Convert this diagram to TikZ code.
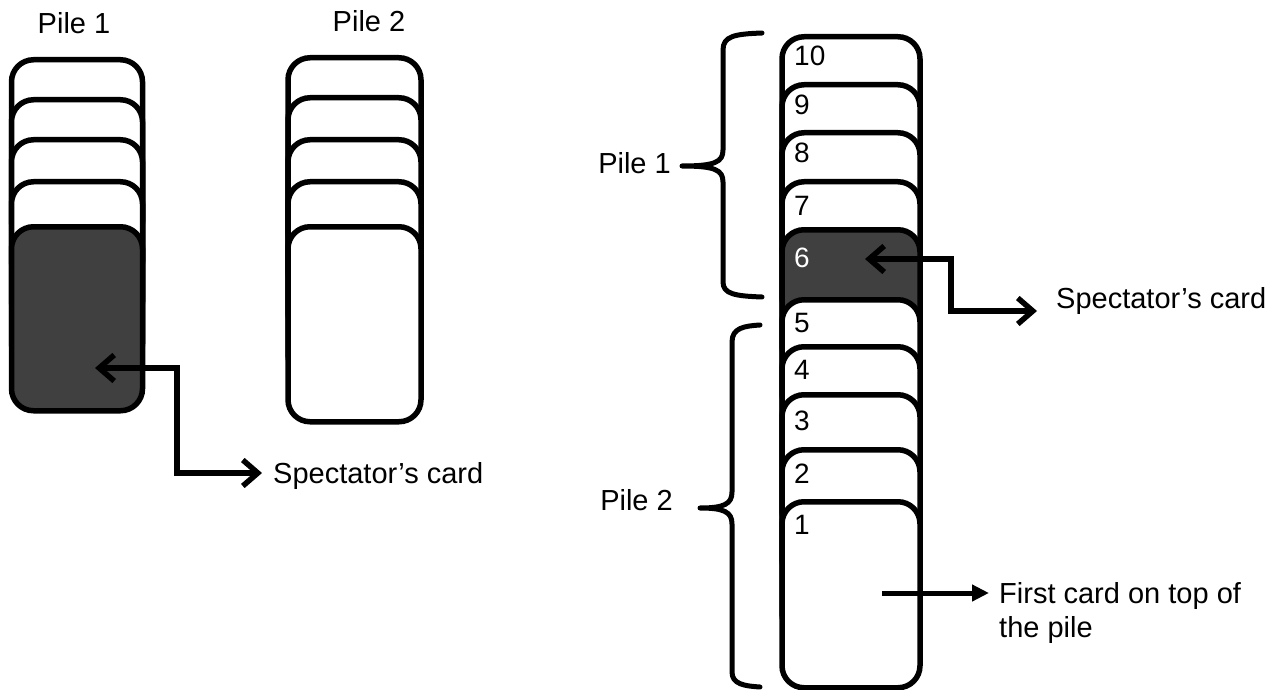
\documentclass[tikz,border=0pt]{standalone}
\usepackage{fontspec}
\setmainfont{Liberation Sans}
\usetikzlibrary{arrows.meta}
\definecolor{carddark}{RGB}{64,64,64}
\begin{document}
\begin{tikzpicture}[x=1pt,y=-1pt,
  card/.style={draw=black, line width=5.5pt, rectangle, rounded corners=22pt,
    fill=white, inner sep=0pt},
  darkcard/.style={card, fill=carddark},
  lbl/.style={inner sep=0pt, font=\fontsize{29}{34}\selectfont},
  num/.style={inner sep=0pt, anchor=base west, font=\fontsize{28}{32}\selectfont},
  bracepath/.style={line width=5pt, line cap=round, line join=round},
  barbarrow/.style={line width=5.5pt, {Straight Barb[length=15pt,width=26pt]}-{Straight Barb[length=15pt,width=26pt]}},
  triarrow/.style={line width=5pt, -{Triangle[length=17pt,width=16pt]}}
]
\useasboundingbox (0,0) rectangle (1278,690);

% ---------- left: Pile 1 ----------
\foreach \t [count=\i] in {57,97,137,179}{
  \node[card, anchor=north, minimum width=131pt, minimum height=184pt] (pa\i) at (77,\t) {};
}
\node[darkcard, anchor=north, minimum width=131pt, minimum height=184pt] (pa5) at (77,224) {};
\node[lbl, anchor=base] (pile1L) at (74,34) {Pile 1};

% ---------- left: Pile 2 ----------
\foreach \t [count=\i] in {55,95,137,179,224}{
  \node[card, anchor=north, minimum width=133pt, minimum height=195pt] (pb\i) at (354.5,\t) {};
}
\node[lbl, anchor=base] (pile2L) at (369,32) {Pile 2};

% ---------- right stack ----------
\node[card, anchor=north, minimum width=138pt, minimum height=186pt] (r10) at (851,34) {};
\node[card, anchor=north, minimum width=138pt, minimum height=186pt] (r9) at (851,82) {};
\node[card, anchor=north, minimum width=138pt, minimum height=186pt] (r8) at (851,130) {};
\node[card, anchor=north, minimum width=138pt, minimum height=186pt] (r7) at (851,179) {};
\node[darkcard, anchor=north, minimum width=138pt, minimum height=186pt] (r6) at (851,227) {};
\node[card, anchor=north, minimum width=138pt, minimum height=186pt] (r5) at (851,297) {};
\node[card, anchor=north, minimum width=138pt, minimum height=186pt] (r4) at (851,344) {};
\node[card, anchor=north, minimum width=138pt, minimum height=186pt] (r3) at (851,392) {};
\node[card, anchor=north, minimum width=138pt, minimum height=186pt] (r2) at (851,447) {};
\node[card, anchor=north, minimum width=138pt, minimum height=186pt] (r1) at (851,499) {};

\node[num] (n10) at (794,66) {10};
\node[num] (n9) at (794,115) {9};
\node[num] (n8) at (794,163) {8};
\node[num] (n7) at (794,215) {7};
\node[num, text=white] (n6) at (794,267) {6};
\node[num] (n5) at (794,332) {5};
\node[num] (n4) at (794,379) {4};
\node[num] (n3) at (794,430) {3};
\node[num] (n2) at (794,483) {2};
\node[num] (n1) at (794,534) {1};

% ---------- braces ----------
\draw[bracepath] (762,33) .. controls (735,34) and (723,36) .. (723,50) -- (723,150)
  .. controls (723,162) and (715,166) .. (682,166)
  .. controls (715,166) and (723,170) .. (723,182) -- (723,282)
  .. controls (723,294) and (735,296) .. (762,297);
\draw[bracepath] (760,325) .. controls (744,326) and (732,328) .. (732,342) -- (732,492)
  .. controls (732,504) and (724,508) .. (700,508)
  .. controls (724,508) and (732,512) .. (732,524) -- (732,672)
  .. controls (732,684) and (744,686) .. (760,687);
\node[lbl, anchor=base east] (pile1R) at (671,174) {Pile 1};
\node[lbl, anchor=base east] (pile2R) at (673,510) {Pile 2};

% ---------- labels ----------
\node[lbl, anchor=base west] (specL) at (273,483) {Spectator’s card};
\node[lbl, anchor=base west] (specR) at (1056,308) {Spectator’s card};
\node[lbl, anchor=base west, align=left] (first) at (999,637) {First card on top of\\the pile};

% ---------- arrows ----------
\coordinate (tipA) at (95,368);
\coordinate (endA) at (262,473);
\draw[barbarrow] (tipA) -- ++(82,0) |- (endA);

\coordinate (tipB) at (865,259);
\coordinate (endB) at (1037,311);
\draw[barbarrow] (tipB) -- ++(86,0) |- (endB);

\coordinate (tipC) at (882,593);
\coordinate (endC) at (989,593);
\draw[triarrow] (tipC) -- (endC);
\end{tikzpicture}
\end{document}
